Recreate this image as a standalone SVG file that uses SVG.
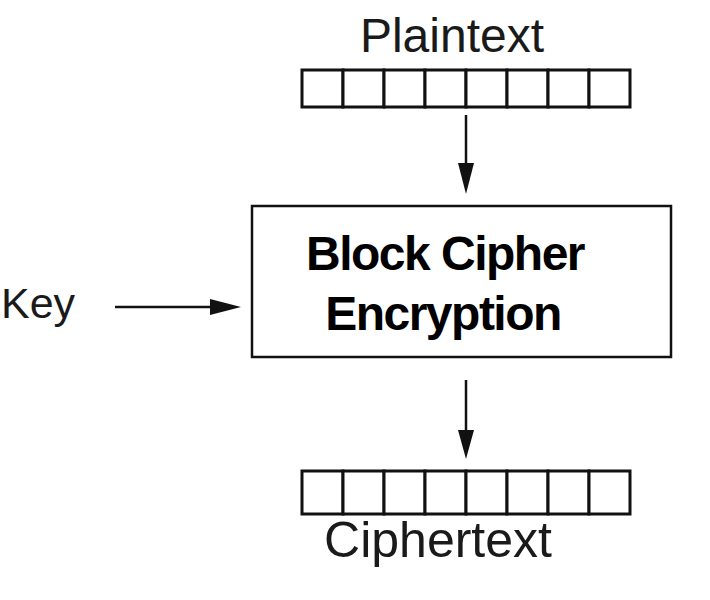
<svg xmlns="http://www.w3.org/2000/svg" width="710" height="600" viewBox="0 0 710 600">
<defs>
<style>
.lbl{font-family:"Liberation Sans",Arial,sans-serif;font-size:48px;fill:#1a1a1a}
.ttl{font-family:"Liberation Sans",Arial,sans-serif;font-size:48px;font-weight:bold;fill:#000;letter-spacing:-1.5px}
.cell{fill:#fff;stroke:#111;stroke-width:3}
.box{fill:#fff;stroke:#111;stroke-width:2.5}
.conn{stroke:#111;stroke-width:2.5;fill:none}
</style>
</defs>
<rect width="710" height="600" fill="#fff"/>
<g id="plaintext">
<text class="lbl" x="452" y="52" text-anchor="middle">Plaintext</text>
<rect class="cell" x="302" y="70" width="41" height="37"/>
<rect class="cell" x="343" y="70" width="41" height="37"/>
<rect class="cell" x="384" y="70" width="41" height="37"/>
<rect class="cell" x="425" y="70" width="41" height="37"/>
<rect class="cell" x="466" y="70" width="41" height="37"/>
<rect class="cell" x="507" y="70" width="41" height="37"/>
<rect class="cell" x="548" y="70" width="41" height="37"/>
<rect class="cell" x="589" y="70" width="41" height="37"/>
</g>
<g id="cipher">
<rect class="box" x="252" y="206" width="419" height="151"/>
<text class="ttl" x="445" y="270" text-anchor="middle">Block Cipher</text>
<text class="ttl" x="443" y="330" text-anchor="middle">Encryption</text>
</g>
<g id="key">
<text class="lbl" x="1" y="318" style="font-size:43px">Key</text>
</g>
<g id="ciphertext">
<rect class="cell" x="302" y="471" width="41" height="43"/>
<rect class="cell" x="343" y="471" width="41" height="43"/>
<rect class="cell" x="384" y="471" width="41" height="43"/>
<rect class="cell" x="425" y="471" width="41" height="43"/>
<rect class="cell" x="466" y="471" width="41" height="43"/>
<rect class="cell" x="507" y="471" width="41" height="43"/>
<rect class="cell" x="548" y="471" width="41" height="43"/>
<rect class="cell" x="589" y="471" width="41" height="43"/>
<text class="lbl" x="438" y="557" text-anchor="middle" style="font-size:50px">Ciphertext</text>
</g>
<g id="connectors">
<line class="conn" x1="466" y1="115" x2="466" y2="165"/>
<polygon points="458,163 474,163 466,194" fill="#111"/>
<line class="conn" x1="466" y1="380" x2="466" y2="432"/>
<polygon points="458,430 474,430 466,459" fill="#111"/>
<line class="conn" x1="115" y1="307" x2="212" y2="307"/>
<polygon points="210,299 210,315 241,307" fill="#111"/>
</g>
</svg>
